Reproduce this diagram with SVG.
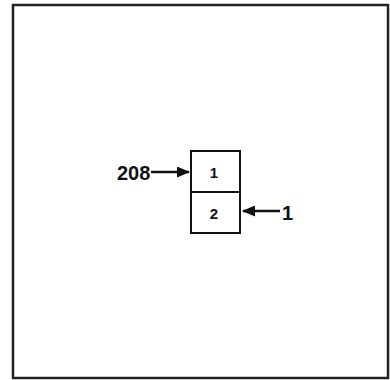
<svg xmlns="http://www.w3.org/2000/svg" width="390" height="380" viewBox="0 0 390 380">
<defs>
<style>
.frame{fill:none;stroke:#222;stroke-width:2.5}
.box{fill:#fff;stroke:#111;stroke-width:2}
.lbl{font-family:"Liberation Sans",Arial,sans-serif;font-weight:bold;font-size:20px;fill:#111}
.cell{font-family:"Liberation Sans",Arial,sans-serif;font-weight:bold;font-size:15px;fill:#111;text-anchor:middle}
.conn{stroke:#111;stroke-width:2.5;fill:none;marker-end:url(#ah)}
</style>
<marker id="ah" markerWidth="13" markerHeight="11" refX="12" refY="5.5" orient="auto" markerUnits="userSpaceOnUse" viewBox="0 0 13 11">
<path d="M0,0 L13,5.5 L0,11 Z" fill="#111"/>
</marker>
</defs>
<rect class="frame" x="13" y="5" width="375" height="373"/>
<g id="cell1">
<rect class="box" x="191" y="151" width="49" height="41"/>
<text class="cell" x="214" y="178">1</text>
</g>
<g id="cell2">
<rect class="box" x="191" y="192" width="49" height="41"/>
<text class="cell" x="214" y="219">2</text>
</g>
<g id="label208">
<text class="lbl" x="117" y="180">208</text>
</g>
<g id="label1">
<text class="lbl" x="282" y="220">1</text>
</g>
<g id="connectors">
<path class="conn" d="M151,172 L189,172"/>
<path class="conn" d="M280,211 L243,211"/>
</g>
</svg>
